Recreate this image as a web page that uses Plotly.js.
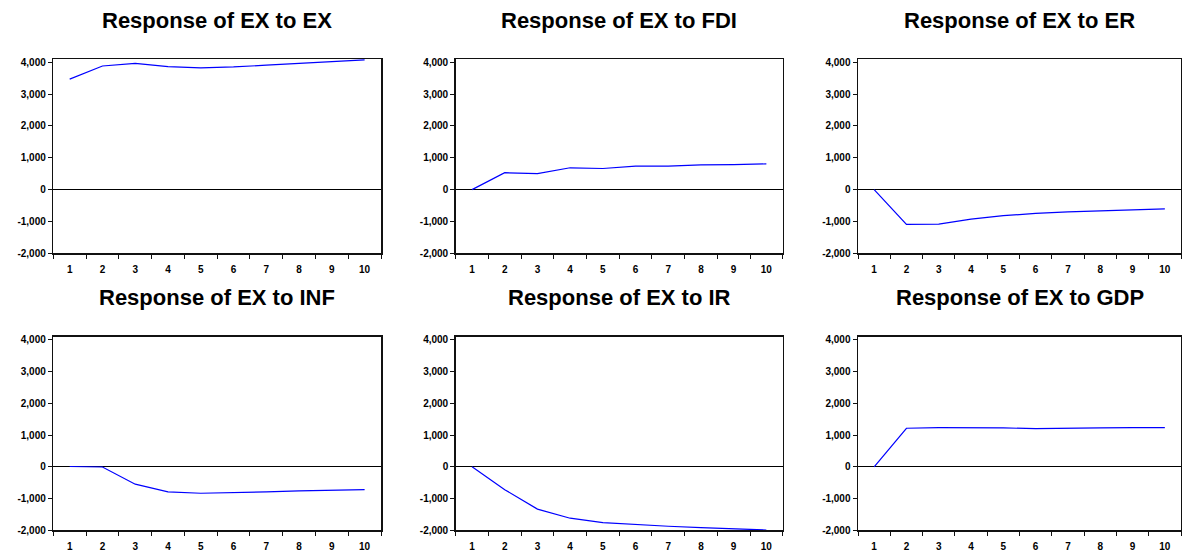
<!DOCTYPE html>
<html>
<head>
<meta charset="utf-8">
<script src="https://cdn.plot.ly/plotly-3.0.1.min.js"></script>
<style>
  html, body { margin: 0; padding: 0; background: #ffffff; }
  #chart { width: 1182px; height: 556px; }
</style>
</head>
<body>
<div id="chart"></div>
<script>
// Periods (x categories)
const periods = ['1', '2', '3', '4', '5', '6', '7', '8', '9', '10'];

// Panel titles
const titles = [
  'Response of EX to EX',
  'Response of EX to FDI',
  'Response of EX to ER',
  'Response of EX to INF',
  'Response of EX to IR',
  'Response of EX to GDP'
];

// Responses
const exToEX  = [3470, 3880, 3965, 3862, 3820, 3850, 3905, 3965, 4030, 4075];
const exToFDI = [0, 530, 500, 685, 663, 735, 735, 776, 786, 806];
const exToER  = [0, -1095, -1085, -926, -820, -745, -702, -670, -638, -606];
const exToINF = [10, -5, -547, -789, -832, -821, -789, -758, -737, -716];
const exToIR  = [0, -720, -1333, -1619, -1757, -1820, -1873, -1915, -1958, -1990];
const exToGDP = [0, 1215, 1232, 1236, 1225, 1204, 1225, 1225, 1232, 1236];

// Y tick values and labels
const yTickVals = [-2000, -1000, 0, 1000, 2000, 3000, 4000];
const yTickText = ['-2,000', '-1,000', '0', '1,000', '2,000', '3,000', '4,000'];

const series = [exToEX, exToFDI, exToER, exToINF, exToIR, exToGDP];

const W = 1182, H = 556;
// pixel boxes of the plot areas
const colX = [[53.3, 381], [455.7, 782.7], [858, 1181]];
const rowY = [[59, 253.3], [336.7, 530.3]];

const data = [];
const layout = {
  width: W, height: H,
  margin: {l: 0, r: 0, t: 0, b: 0},
  paper_bgcolor: '#ffffff',
  plot_bgcolor: '#ffffff',
  showlegend: false,
  font: {family: 'Liberation Sans, Arial, sans-serif', color: '#111111'},
  annotations: []
};

const tickFont = {size: 10, family: 'Liberation Sans, Arial, sans-serif', color: '#000000', weight: 'bold'};

for (let i = 0; i < 6; i++) {
  const r = Math.floor(i / 3), c = i % 3;
  const sfx = i === 0 ? '' : String(i + 1);
  data.push({
    x: periods, y: series[i],
    type: 'scatter', mode: 'lines',
    line: {color: '#0000ff', width: 1.2},
    xaxis: 'x' + sfx, yaxis: 'y' + sfx,
    hoverinfo: 'skip'
  });
  const xd = [colX[c][0] / W, colX[c][1] / W];
  const yd = [1 - rowY[r][1] / H, 1 - rowY[r][0] / H];
  layout['xaxis' + sfx] = {
    domain: xd,
    anchor: 'y' + sfx,
    type: 'category',
    range: [-0.5, 9.5],
    tickson: 'boundaries',
    ticks: 'outside', ticklen: 4, tickwidth: 1, tickcolor: '#111111',
    ticklabelstandoff: 6,
    showgrid: false, zeroline: false,
    showline: true, mirror: true, linecolor: '#111111', linewidth: 1.5,
    tickfont: tickFont,
    fixedrange: true
  };
  layout['yaxis' + sfx] = {
    domain: yd,
    anchor: 'x' + sfx,
    range: [-2000, 4100],
    tickmode: 'array', tickvals: yTickVals, ticktext: yTickText,
    ticks: 'outside', ticklen: 4, tickwidth: 1, tickcolor: '#111111',
    showgrid: false,
    zeroline: true, zerolinecolor: '#000000', zerolinewidth: 1,
    showline: true, mirror: true, linecolor: '#111111', linewidth: 1.5,
    tickfont: tickFont,
    fixedrange: true
  };
  layout.annotations.push({
    text: titles[i],
    xref: 'paper', yref: 'paper',
    x: (xd[0] + xd[1]) / 2,
    y: 1 - (r === 0 ? 20 : 297.7) / H,
    xanchor: 'center', yanchor: 'middle',
    showarrow: false,
    font: {size: 22, family: 'Liberation Sans, Arial, sans-serif', color: '#000000', weight: 'bold'}
  });
}

Plotly.newPlot('chart', data, layout, {staticPlot: true, displayModeBar: false});
</script>
</body>
</html>
